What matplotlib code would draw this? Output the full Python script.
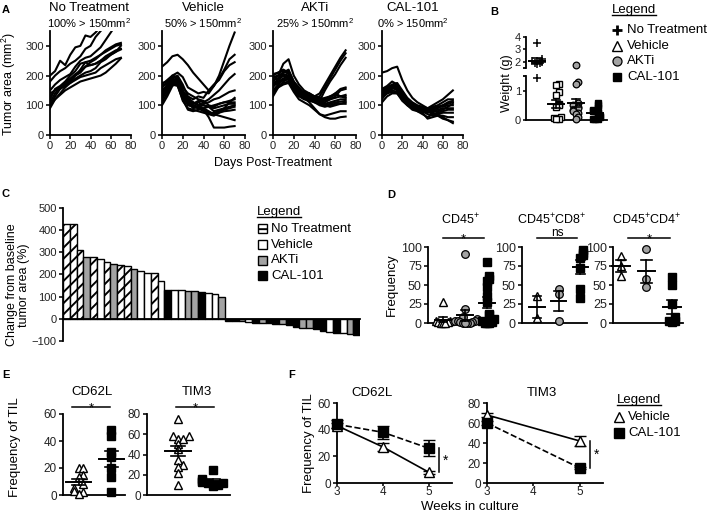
# coding: utf-8
import matplotlib
matplotlib.use('Agg')
import matplotlib.pyplot as plt
import numpy as np
from matplotlib.lines import Line2D
from matplotlib.patches import Rectangle

plt.rcParams['font.family'] = ['Liberation Sans', 'DejaVu Sans']
plt.rcParams['mathtext.fontset'] = 'custom'
plt.rcParams['mathtext.rm'] = 'Liberation Sans'
plt.rcParams['mathtext.it'] = 'Liberation Sans:italic'
plt.rcParams['mathtext.bf'] = 'Liberation Sans:bold'
plt.rcParams['hatch.linewidth'] = 1.4

GRAY = '#a3a3a3'

# ---------------------------------------------------------------------------
# data
# ---------------------------------------------------------------------------
# A: tumour growth curves (mm^2) per mouse
days = [0, 5, 10, 15, 20, 25, 30, 35, 40, 45, 50, 55, 60, 65, 70]
a_titles = ['No Treatment', 'Vehicle', 'AKTi', 'CAL-101']
a_subtitles = ['100% > 150mm$^2$', '50% > 150mm$^2$', '25% > 150mm$^2$', '0% > 150mm$^2$']
a_notreat = [
    [200, 215, 250, 235, 270, 295, 300, 335, 330, 345, 365, 380, 390, 400, 410],
    [180, 200, 215, 225, 240, 250, 265, 290, 300, 330, 350, 370, 380, 390, 400],
    [150, 170, 185, 195, 205, 230, 250, 260, 265, 280, 295, 320, 345, 370, 390],
    [120, 155, 165, 180, 200, 215, 240, 245, 250, 260, 270, 285, 295, 305, 310],
    [110, 140, 160, 175, 190, 205, 215, 230, 245, 255, 270, 280, 290, 300, 305],
    [100, 130, 155, 170, 180, 200, 210, 230, 235, 240, 250, 265, 275, 285, 290],
    [130, 150, 160, 170, 175, 190, 200, 210, 215, 225, 245, 255, 270, 280, 288],
    [90, 120, 140, 160, 175, 185, 195, 200, 205, 210, 225, 235, 245, 255, 260],
    [100, 120, 135, 150, 160, 170, 180, 185, 190, 195, 200, 210, 225, 240, 258],
    [140, 150, 155, 165, 185, 200, 220, 245, 235, 240, 250, 260, 270, 280, 300],
]
a_vehicle = [
    [230, 245, 265, 270, 255, 235, 210, 190, 170, 150, 165, 190, 220, 255, 270],
    [160, 175, 200, 210, 195, 160, 150, 140, 145, 140, 165, 200, 250, 300, 345],
    [150, 165, 190, 200, 170, 130, 120, 130, 125, 150, 170, 185, 215, 235, 245],
    [140, 170, 185, 190, 150, 110, 105, 115, 110, 120, 135, 150, 170, 190, 205],
    [120, 150, 170, 180, 140, 120, 110, 100, 105, 110, 120, 125, 135, 145, 150],
    [100, 130, 165, 175, 130, 100, 95, 110, 100, 95, 100, 105, 110, 115, 120],
    [170, 185, 200, 195, 160, 140, 130, 120, 115, 100, 95, 105, 110, 110, 110],
    [155, 160, 175, 180, 130, 110, 90, 95, 100, 95, 90, 95, 100, 105, 105],
    [130, 150, 170, 165, 120, 85, 80, 85, 90, 95, 80, 85, 90, 95, 100],
    [110, 140, 175, 170, 115, 90, 85, 80, 75, 70, 75, 80, 85, 90, 95],
    [165, 175, 185, 185, 140, 115, 100, 95, 90, 80, 70, 75, 80, 82, 85],
    [145, 155, 190, 170, 125, 105, 95, 90, 85, 75, 70, 65, 60, 55, 50],
    [175, 180, 195, 190, 150, 125, 110, 100, 85, 60, 25, 25, 25, 28, 30],
    [135, 160, 180, 175, 135, 120, 100, 90, 80, 70, 65, 75, 90, 110, 125],
]
a_akti = [
    [180, 200, 240, 255, 200, 170, 150, 140, 130, 140, 170, 200, 230, 260, 285],
    [160, 190, 210, 215, 180, 160, 140, 135, 125, 130, 160, 190, 220, 250, 275],
    [190, 200, 205, 200, 175, 150, 135, 140, 120, 115, 150, 180, 205, 235, 260],
    [200, 210, 220, 210, 170, 150, 140, 130, 125, 120, 125, 130, 140, 155, 160],
    [170, 180, 190, 200, 165, 145, 130, 125, 120, 115, 110, 120, 130, 150, 155],
    [150, 170, 190, 185, 155, 140, 130, 125, 115, 110, 120, 130, 135, 130, 130],
    [130, 160, 180, 190, 160, 140, 135, 130, 120, 110, 105, 110, 115, 120, 120],
    [140, 165, 175, 180, 150, 135, 125, 120, 110, 105, 100, 105, 110, 112, 115],
    [205, 210, 215, 205, 170, 150, 145, 135, 130, 115, 100, 95, 100, 105, 110],
    [175, 185, 200, 195, 150, 130, 120, 115, 110, 100, 95, 100, 105, 105, 105],
    [185, 190, 200, 190, 160, 135, 125, 110, 90, 70, 60, 55, 55, 60, 62],
    [150, 160, 170, 175, 145, 120, 110, 100, 85, 70, 65, 70, 75, 80, 80],
    [195, 200, 210, 220, 180, 155, 140, 130, 125, 120, 115, 120, 125, 130, 135],
    [165, 175, 185, 190, 165, 145, 135, 140, 130, 125, 120, 125, 140, 130, 125],
]
a_cal = [
    [210, 215, 225, 230, 185, 150, 125, 110, 100, 90, 90, 95, 100, 110, 115],
    [150, 160, 170, 175, 150, 125, 110, 100, 95, 90, 100, 110, 120, 135, 150],
    [140, 155, 165, 170, 145, 120, 105, 95, 90, 85, 95, 100, 110, 120, 120],
    [130, 150, 160, 165, 140, 115, 100, 90, 85, 80, 85, 90, 100, 105, 110],
    [120, 145, 155, 160, 135, 110, 95, 90, 85, 80, 90, 95, 95, 100, 100],
    [135, 150, 160, 155, 130, 105, 90, 85, 80, 75, 80, 85, 90, 90, 90],
    [150, 155, 160, 150, 125, 105, 95, 80, 70, 60, 70, 75, 80, 85, 85],
    [125, 140, 150, 145, 120, 100, 90, 85, 80, 70, 65, 70, 75, 75, 75],
    [110, 130, 140, 140, 115, 100, 85, 80, 75, 55, 60, 65, 65, 60, 60],
    [145, 155, 165, 160, 130, 110, 100, 90, 85, 80, 70, 65, 55, 50, 45],
    [130, 140, 145, 140, 120, 105, 95, 90, 85, 80, 75, 70, 60, 50, 40],
    [155, 165, 180, 170, 140, 115, 100, 95, 90, 85, 80, 80, 85, 95, 105],
]

# B: tumour weight (g)
b_notreat = [3.5, 2.2, 2.1, 2.05, 2.0, 1.95, 1.9, 1.8, 1.45]
b_vehicle = [1.25, 1.2, 0.95, 0.85, 0.55, 0.5, 0.45, 0.1, 0.08, 0.05, 0.05]
b_akti = [1.75, 1.3, 1.25, 0.6, 0.5, 0.45, 0.4, 0.35, 0.3, 0.25, 0.2, 0.1, 0.05]
b_cal = [0.6, 0.5, 0.4, 0.35, 0.3, 0.25, 0.2, 0.15, 0.1, 0.05, 0.05, 0.02]

# C: waterfall, change from baseline (%)
c_values = [430, 428, 310, 280, 278, 272, 255, 248, 245, 238, 225, 215, 205, 205,
            170, 132, 128, 128, 126, 125, 122, 117, 110, 100,
            -8, -12, -10, -15, -18, -18, -20, -22, -25, -28, -35, -40, -40, -48,
            -55, -58, -62, -65, -68, -75]
c_groups = ['NT', 'NT', 'NT', 'AKTi', 'NT', 'Veh', 'NT', 'AKTi', 'NT', 'NT',
            'AKTi', 'Veh', 'Veh', 'NT', 'Veh', 'CAL', 'Veh', 'Veh', 'AKTi', 'AKTi',
            'CAL', 'Veh', 'Veh', 'AKTi',
            'CAL', 'CAL', 'AKTi', 'Veh', 'CAL', 'AKTi', 'CAL', 'CAL', 'AKTi', 'CAL',
            'CAL', 'AKTi', 'AKTi', 'CAL', 'CAL', 'Veh', 'CAL', 'Veh', 'AKTi', 'CAL']

# D: frequency of immune populations
d_titles = ['CD45$^{+}$', 'CD45$^{+}$CD8$^{+}$', 'CD45$^{+}$CD4$^{+}$']
d_sig = ['*', 'ns', '*']
d_vehicle = [[28, 3, 2, 1, 1, 0, 0, 0], [36, 6], [88, 75, 62]]
d_akti = [[91, 18, 8, 5, 3, 2, 2, 1, 1, 0, 0, 0, 0], [45, 38, 3], [98, 58, 48]]
d_cal = [[80, 62, 58, 55, 48, 35, 28, 12, 10, 5, 2, 1, 0, 0, 0],
         [96, 92, 90, 85, 72, 45, 33], [60, 50, 25, 8, 3, 2, 1]]

# E: frequency of TIL
e_titles = ['CD62L', 'TIM3']
e_vehicle = [[20, 20, 15, 13, 8, 5, 3, 2, 1],
             [75, 58, 58, 55, 55, 50, 45, 35, 30, 28, 22, 10]]
e_cal = [[48, 44, 32, 28, 20, 13, 2], [25, 16, 14, 13, 12, 12, 10, 9]]

# F: frequency of TIL over weeks in culture
f_titles = ['CD62L', 'TIM3']
f_weeks = [[3, 4, 5], [3, 5]]
f_vehicle = [[43, 27, 8], [68, 42]]
f_vehicle_err = [[2, 3, 1], [2, 5]]
f_cal = [[44, 38, 26], [60, 15]]
f_cal_err = [[3, 5, 6], [2, 1]]

legend_labels4 = ['No Treatment', 'Vehicle', 'AKTi', 'CAL-101']

# ---------------------------------------------------------------------------
# helpers
# ---------------------------------------------------------------------------
W, H = 708, 514
fig = plt.figure(figsize=(W / 100, H / 100), dpi=100)
underline = []


def px_axes(left, top, right, bottom):
    """Axes from pixel box measured from the top-left corner."""
    return fig.add_axes([left / W, 1 - bottom / H, (right - left) / W, (bottom - top) / H])


def style(ax, fs, length=3.0):
    for s in ['top', 'right']:
        ax.spines[s].set_visible(False)
    for s in ['left', 'bottom']:
        ax.spines[s].set_linewidth(1.3)
    ax.tick_params(direction='out', length=length, width=1.3, labelsize=fs, pad=1.5,
                   colors='#222222')
    ax.patch.set_alpha(0)


def ftext(x, y, s, **kw):
    return fig.text(x / W, 1 - y / H, s, **kw)


def fxy(x, y):
    return x / W, 1 - y / H


def swarm(vals, step, thresh):
    """Deterministic side-by-side spread for points with close values."""
    vals = np.asarray(vals, float)
    offs = np.zeros(len(vals))
    placed = []
    for i in np.argsort(vals):
        n = sum(1 for j in placed if abs(vals[j] - vals[i]) < thresh)
        if n:
            offs[i] = ((n + 1) // 2) * step * (1 if n % 2 else -1)
        placed.append(i)
    return offs


def mean_sem(ax, x, vals, wm, ws, f=lambda v: v):
    v = np.asarray(vals, float)
    m = v.mean()
    s = v.std(ddof=1) / np.sqrt(len(v)) if len(v) > 1 else 0
    ax.plot([x - wm, x + wm], [f(m), f(m)], color='k', lw=1.4, zorder=5, clip_on=False)
    ax.plot([x, x], [f(m - s), f(m + s)], color='k', lw=1.2, zorder=5, clip_on=False)
    for y in (m - s, m + s):
        ax.plot([x - ws, x + ws], [f(y), f(y)], color='k', lw=1.2, zorder=5, clip_on=False)


def sig_bar(ax, x0, x1, y_line, y_px_text, label, fs):
    """Horizontal significance bar; label placed by its baseline in figure pixels."""
    ax.plot([x0, x1], [y_line, y_line], color='k', lw=1.1, clip_on=False)
    xm = ax.transData.transform(((x0 + x1) / 2, y_line))[0]
    fig.text(xm / fig.dpi / fig.get_figwidth(), 1 - y_px_text / H, label,
             ha='center', va='baseline', fontsize=fs)


def legend_block(x_title, y_title, x_mk, x_txt, y0, dy, handles, labels):
    underline.append(ftext(x_title, y_title, 'Legend', ha='left', va='center', fontsize=9.5))
    for i, (h, lab) in enumerate(zip(handles, labels)):
        y = y0 + i * dy
        if h.get('patch'):
            x, yy = fxy(x_mk - 4.5, y + 4.5)
            fig.add_artist(Rectangle((x, yy), 9 / W, 9 / H, transform=fig.transFigure,
                                     facecolor=h['fc'], edgecolor='k', lw=1.0,
                                     hatch=h.get('hatch')))
        else:
            x, yy = fxy(x_mk, y)
            fig.add_artist(Line2D([x], [yy], transform=fig.transFigure, ls='none',
                                  **h['mk']))
        ftext(x_txt, y, lab, ha='left', va='center', fontsize=9.5)


MK = {
    'NT': dict(marker='+', color='k', mfc='k', mec='k', mew=1.1),
    'Veh': dict(marker='^', color='k', mfc='white', mec='k', mew=1.0),
    'Vsq': dict(marker='s', color='k', mfc='white', mec='k', mew=1.0),
    'AKTi': dict(marker='o', color='k', mfc=GRAY, mec='k', mew=0.9),
    'CAL': dict(marker='s', color='k', mfc='k', mec='k', mew=1.0),
}

# ---------------------------------------------------------------------------
# A
# ---------------------------------------------------------------------------
a_boxes = [(50, 131, 89), (162, 245, 203), (273, 356, 315), (382, 463, 413)]
for (x0, x1, xt), title, sub, curves in zip(a_boxes, a_titles, a_subtitles,
                                            [a_notreat, a_vehicle, a_akti, a_cal]):
    ax = px_axes(x0, 31, x1, 135)
    style(ax, 8)
    for row in curves:
        ax.plot(days, row, color='k', lw=1.5, solid_joinstyle='round')
    ax.set_xlim(0, 80)
    ax.set_ylim(0, 350)
    ax.set_xticks([0, 20, 40, 60, 80])
    ax.set_yticks([0, 100, 200, 300])
    ftext(xt, 8, title, ha='center', va='center', fontsize=9.5)
    ftext(xt, 23, sub, ha='center', va='center', fontsize=8)
ftext(9, 84, 'Tumor area (mm$^2$)', rotation=90, ha='center', va='center', fontsize=9)
ftext(273, 163, 'Days Post-Treatment', ha='center', va='center', fontsize=9)

# ---------------------------------------------------------------------------
# B (broken y axis)
# ---------------------------------------------------------------------------
BRK_LO, BRK_HI, K = 1.5, 1.785, 0.43


def brk(v):
    v = np.asarray(v, float)
    return np.where(v <= BRK_LO, v, BRK_HI + (v - BRK_LO) * K)


axb = px_axes(526, 37, 607, 120)
style(axb, 8, length=2.5)
axb.tick_params(pad=1)
axb.spines['left'].set_visible(False)
tr = axb.get_yaxis_transform()
axb.plot([0, 0], [0, BRK_LO], color='k', lw=1.3, transform=tr, clip_on=False)
axb.plot([0, 0], [BRK_HI, float(brk(4))], color='k', lw=1.3, transform=tr, clip_on=False)
axb.set_yticks(brk([0, 1, 2, 3, 4]), ['0', '1', '2', '3', '4'])
axb.set_yticks([BRK_LO, BRK_HI], minor=True)
axb.tick_params(which='minor', length=2.5, width=1.3)
axb.set_xticks([])
axb.set_xlim(-0.57, 3.62)
axb.set_ylim(0, float(brk(4)))
for i, (key, vals) in enumerate(zip(['NT', 'Vsq', 'AKTi', 'CAL'],
                                    [b_notreat, b_vehicle, b_akti, b_cal])):
    offs = swarm(brk(vals), 0.13, 0.1)
    axb.plot(i + offs, brk(vals), ls='none', ms=5.5 if key == 'NT' else 4.8,
             clip_on=False, zorder=3, **MK[key])
    mean_sem(axb, i, vals, 0.42, 0.2, f=brk)
ftext(507, 83, 'Weight (g)', rotation=90, ha='center', va='center', fontsize=9)

legend_block(612, 10, 617, 627, 30, 15.7,
             [dict(mk=dict(MK['NT'], ms=7.5, mew=2)), dict(mk=dict(MK['Veh'], ms=6.5)),
              dict(mk=dict(MK['AKTi'], ms=6.5)), dict(mk=dict(MK['CAL'], ms=6))],
             legend_labels4)

# ---------------------------------------------------------------------------
# C waterfall
# ---------------------------------------------------------------------------
axc = px_axes(63, 208, 360, 341)
style(axc, 8)
axc.spines['bottom'].set_position(('data', 0))
axc.set_xticks([])
axc.set_ylim(-100, 500)
axc.set_yticks([-100, 0, 100, 200, 300, 400, 500])
axc.set_xlim(-0.5, len(c_values) - 0.5)
c_face = {'NT': 'white', 'Veh': 'white', 'AKTi': GRAY, 'CAL': 'black'}
for i, (v, g) in enumerate(zip(c_values, c_groups)):
    axc.bar(i, v, width=1.0, color=c_face[g], edgecolor='k', linewidth=1.0,
            hatch='///' if g == 'NT' else None, zorder=2)
ftext(18, 285, 'Change from baseline\ntumor area (%)', rotation=90, ha='center',
      va='center', fontsize=9, linespacing=1.1)
legend_block(257, 212, 262, 271, 229, 15.6,
             [dict(patch=True, fc='white', hatch='--'), dict(patch=True, fc='white'),
              dict(patch=True, fc=GRAY), dict(patch=True, fc='black')],
             legend_labels4)

# ---------------------------------------------------------------------------
# D
# ---------------------------------------------------------------------------
d_boxes = [(428, 493, -0.68, 2.27, 0.0, 1.86, 460),
           (522, 587, -0.69, 2.30, 0.0, 1.86, 552),
           (613, 683, -0.31, 2.43, 0.27, 1.92, 647)]
for k, (x0, x1, lo, hi, s0, s1, xt) in enumerate(d_boxes):
    ax = px_axes(x0, 247, x1, 323)
    style(ax, 9)
    ax.set_xticks([])
    ax.set_xlim(lo, hi)
    ax.set_ylim(0, 100)
    ax.set_yticks([0, 25, 50, 75, 100])
    for i, (key, vals) in enumerate(zip(['Veh', 'AKTi', 'CAL'],
                                        [d_vehicle[k], d_akti[k], d_cal[k]])):
        offs = swarm(vals, 0.11, 6)
        ax.plot(i + offs, vals, ls='none', ms=5.5 if key != 'CAL' else 5.2,
                clip_on=False, zorder=3, **MK[key])
        mean_sem(ax, i, vals, 0.35, 0.2)
    if k == 0:
        ax.set_ylabel('Frequency', fontsize=9.5, labelpad=2)
    if d_sig[k] == 'ns':
        sig_bar(ax, s0, s1, 112, 236.5, d_sig[k], 8.5)
    else:
        sig_bar(ax, s0, s1, 112, 242, d_sig[k], 9.5)
    ftext(xt, 220, d_titles[k], ha='center', va='center', fontsize=9)

# ---------------------------------------------------------------------------
# E
# ---------------------------------------------------------------------------
e_boxes = [(63, 125, -0.47, 1.41, 60, [0, 20, 40, 60], -0.2, 0.97, 92),
           (147, 230, -0.89, 1.49, 80, [0, 20, 40, 60, 80], -0.05, 1.03, 197)]
for k, (x0, x1, lo, hi, top, yt, s0, s1, xt) in enumerate(e_boxes):
    ax = px_axes(x0, 414, x1, 495)
    style(ax, 8.5)
    ax.set_xticks([])
    ax.set_xlim(lo, hi)
    ax.set_ylim(0, top)
    ax.set_yticks(yt)
    for i, (key, vals) in enumerate(zip(['Veh', 'CAL'], [e_vehicle[k], e_cal[k]])):
        offs = swarm(vals, 0.15, top * 0.06)
        ax.plot(i + offs, vals, ls='none', ms=6 if key == 'Veh' else 5.2,
                clip_on=False, zorder=3, **MK[key])
        mean_sem(ax, i, vals, 0.38, 0.2)
    sig_bar(ax, s0, s1, top * 1.09, 411, '*', 9.5)
    ftext(xt, 392, e_titles[k], ha='center', va='center', fontsize=9.5)
ftext(15, 447, 'Frequency of TIL', rotation=90, ha='center', va='center', fontsize=9.5)

# ---------------------------------------------------------------------------
# F
# ---------------------------------------------------------------------------
f_boxes = [(337, 452, 60, [0, 20, 40, 60], 8, 26, 372),
           (487, 603, 80, [0, 20, 40, 60, 80], 15, 42, 542)]
for k, (x0, x1, top, yt, s0, s1, xt) in enumerate(f_boxes):
    ax = px_axes(x0, 403, x1, 483)
    style(ax, 8.5)
    ax.tick_params(axis='x', length=2, pad=0.5)
    ax.set_xlim(3, 5.5)
    ax.set_xticks([3, 4, 5])
    ax.set_ylim(0, top)
    ax.set_yticks(yt)
    ax.errorbar(f_weeks[k], f_vehicle[k], yerr=f_vehicle_err[k], color='k', lw=1.2,
                capsize=4, elinewidth=1.2, capthick=1.2, ms=7.5, clip_on=False,
                zorder=3, **{kk: vv for kk, vv in MK['Veh'].items() if kk != 'color'})
    ax.errorbar(f_weeks[k], f_cal[k], yerr=f_cal_err[k], color='k', lw=1.2, ls='--',
                capsize=4, elinewidth=1.2, capthick=1.2, ms=6.5, clip_on=False,
                zorder=4, **{kk: vv for kk, vv in MK['CAL'].items() if kk != 'color'})
    ax.plot([5.22, 5.22], [s0, s1], color='k', lw=1.1, clip_on=False)
    ax.text(5.3, (s0 + s1) / 2, '*', ha='left', va='center', fontsize=10)
    if k == 0:
        ax.set_ylabel('Frequency of TIL', fontsize=9.5, labelpad=2)
    ftext(xt, 393, f_titles[k], ha='center', va='center', fontsize=9.5)
ftext(470, 507, 'Weeks in culture', ha='center', va='center', fontsize=9.5)
legend_block(617, 400, 619, 628, 417, 16,
             [dict(mk=dict(MK['Veh'], ms=7)), dict(mk=dict(MK['CAL'], ms=6.5))],
             ['Vehicle', 'CAL-101'])

# panel letters
for lab, x, y in [('A', 6, 10), ('B', 494, 12), ('C', 6, 194), ('D', 391, 195),
                  ('E', 6, 375), ('F', 292, 375)]:
    ftext(x, y, lab, ha='center', va='center', fontsize=8, fontweight='bold')

# underline the "Legend" headers
fig.canvas.draw()
rend = fig.canvas.get_renderer()
for t in underline:
    bb = t.get_window_extent(rend)
    p0 = fig.transFigure.inverted().transform((bb.x0, bb.y0 + 1))
    p1 = fig.transFigure.inverted().transform((bb.x1, bb.y0 + 1))
    fig.add_artist(Line2D([p0[0], p1[0]], [p0[1], p1[1]], color='k', lw=1.0))

fig.savefig('out.png', dpi=100)
